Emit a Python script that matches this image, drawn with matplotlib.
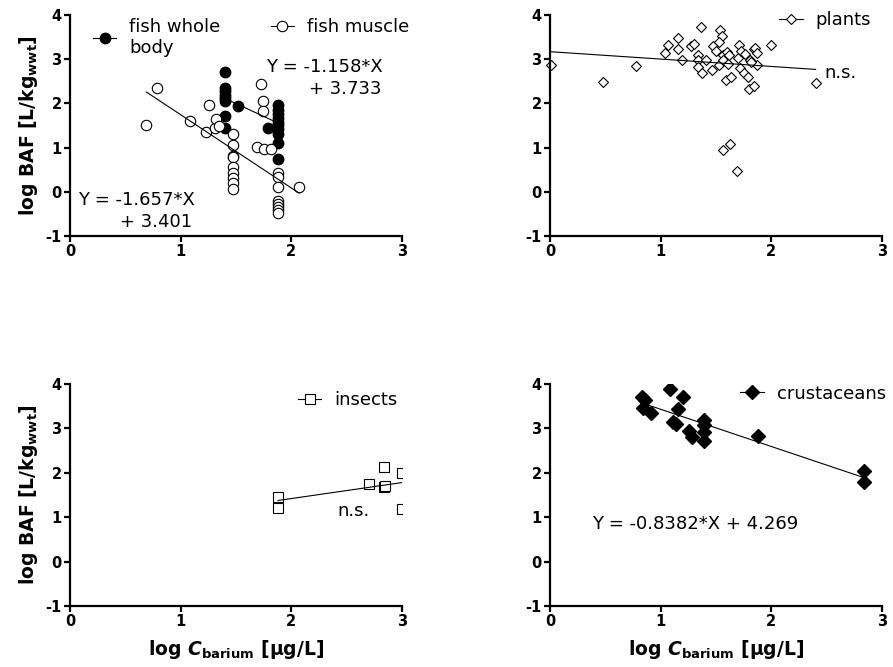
import matplotlib
matplotlib.use("Agg")
import numpy as np
import matplotlib.pyplot as plt
from matplotlib.lines import Line2D

# values
fish_body_x = [1.40, 1.40, 1.40, 1.40, 1.40, 1.40, 1.40, 1.40, 1.52, 1.79,
               1.88, 1.88, 1.88, 1.88, 1.88, 1.88, 1.88, 1.88, 1.88, 1.88]
fish_body_y = [2.72, 2.35, 2.28, 2.20, 2.12, 2.05, 1.72, 1.45, 1.94, 1.45,
               1.96, 1.86, 1.77, 1.68, 1.59, 1.50, 1.42, 1.30, 1.10, 0.74]
fish_muscle_x = [0.69, 0.79, 1.08, 1.23, 1.26, 1.31, 1.32, 1.35,
                 1.47, 1.47, 1.47, 1.47, 1.47, 1.47, 1.47, 1.47, 1.47,
                 1.73, 1.74, 1.74, 1.69, 1.75, 1.82,
                 1.88, 1.88, 1.88, 1.88, 1.88, 1.88, 1.88, 1.88, 2.07]
fish_muscle_y = [1.50, 2.34, 1.60, 1.35, 1.96, 1.45, 1.64, 1.48,
                 1.30, 1.05, 0.80, 0.78, 0.56, 0.42, 0.31, 0.20, 0.07,
                 2.44, 2.06, 1.83, 1.01, 0.96, 0.96,
                 0.42, 0.33, 0.10, -0.20, -0.27, -0.35, -0.42, -0.48, 0.11]
fish_body_fit = (-1.158, 3.733)
fish_muscle_fit = (-1.657, 3.401)

plants_x = [0.01, 0.48, 0.78, 1.04, 1.07, 1.16, 1.16, 1.19, 1.27, 1.30, 1.36, 1.34,
            1.34, 1.34, 1.37, 1.41, 1.46, 1.47, 1.50, 1.54, 1.55, 1.53, 1.53, 1.56,
            1.56, 1.59, 1.60, 1.61, 1.62, 1.64, 1.56, 1.63, 1.69, 1.71, 1.70, 1.72,
            1.73, 1.75, 1.76, 1.79, 1.80, 1.84, 1.81, 1.84, 1.85, 1.87, 1.87, 1.82,
            2.00, 2.40]
plants_y = [2.87, 2.49, 2.84, 3.14, 3.33, 3.47, 3.22, 2.98, 3.30, 3.35, 3.73, 3.10,
            2.98, 2.83, 2.68, 2.98, 2.76, 3.30, 3.19, 3.66, 3.53, 3.38, 2.87, 3.09,
            2.98, 2.54, 3.17, 2.90, 3.09, 2.59, 0.95, 1.08, 0.48, 3.33, 3.02, 2.79,
            3.19, 2.68, 3.12, 2.60, 2.33, 2.40, 2.98, 3.22, 3.25, 3.13, 2.86, 2.94,
            3.32, 2.47]
plants_fit = (-0.167, 3.17)

insects_x = [1.88, 1.88, 2.70, 2.84, 2.84, 2.85, 3.0, 3.0]
insects_y = [1.46, 1.21, 1.74, 2.12, 1.67, 1.70, 2.00, 1.19]
insects_fit = (0.36, 0.70)

crust_x = [0.83, 0.86, 0.84, 0.91, 1.08, 1.20, 1.16, 1.11, 1.14, 1.26, 1.28,
           1.39, 1.39, 1.39, 1.39, 1.88, 2.84, 2.84]
crust_y = [3.71, 3.64, 3.45, 3.35, 3.89, 3.70, 3.43, 3.15, 3.09, 2.94, 2.81,
           3.19, 3.08, 2.93, 2.72, 2.84, 2.03, 1.79]
crust_fit = (-0.8382, 4.269)

plt.rcParams['font.family'] = ['DejaVu Sans']
plt.rcParams['mathtext.fontset'] = 'dejavusans'
plt.rcParams['axes.unicode_minus'] = False

fig = plt.figure(figsize=(8.93, 6.67), dpi=100)
W, H = 893, 667
FS = 13


def make_axes(l, r, t, b):
    ax = fig.add_axes([l / W, 1 - b / H, (r - l) / W, (b - t) / H])
    ax.set_xlim(0, 3)
    ax.set_ylim(-1, 4)
    ax.set_xticks([0, 1, 2, 3])
    ax.set_yticks([-1, 0, 1, 2, 3, 4])
    for s in ['top', 'right']:
        ax.spines[s].set_visible(False)
    for s in ['left', 'bottom']:
        ax.spines[s].set_linewidth(1.6)
    ax.tick_params(direction='out', length=4, width=1.6, labelsize=10.5, pad=2)
    for lab in ax.get_xticklabels() + ax.get_yticklabels():
        lab.set_fontweight('bold')
    return ax


def fit_line(ax, xs, fit):
    xx = np.array([min(xs), max(xs)])
    ax.plot(xx, fit[0] * xx + fit[1], color='black', lw=0.8)


def small_legend(ax, handles, labels, **kw):
    return ax.legend(handles, labels, frameon=False, fontsize=FS,
                     handlelength=1.3, handletextpad=0.7, **kw)


ylab = r'log BAF [L/kg$_{\mathbf{wwt}}$]'
xlab = r'log $\mathbfit{C}_{\mathbf{barium}}$ [μg/L]'
txt = dict(fontsize=FS, va='center')

# fish
ax1 = make_axes(70, 402, 15, 236)
ax1.plot(fish_body_x, fish_body_y, 'o', mfc='black', mec='black', ms=7.5)
ax1.plot(fish_muscle_x, fish_muscle_y, 'o', mfc='white', mec='black', ms=7.5, mew=0.8)
fit_line(ax1, fish_body_x, fish_body_fit)
fit_line(ax1, fish_muscle_x, fish_muscle_fit)
ax1.text(1.77, 2.82, 'Y = -1.158*X', **txt)
ax1.text(2.16, 2.33, '+ 3.733', **txt)
ax1.text(0.07, -0.18, 'Y = -1.657*X', **txt)
ax1.text(0.45, -0.68, '+ 3.401', **txt)
h1 = Line2D([], [], color='black', lw=0.8, marker='o', mfc='black', ms=7.5)
h2 = Line2D([], [], color='black', lw=0.8, marker='o', mfc='white', ms=7.5, mew=0.8)
leg1 = small_legend(ax1, [h1], ['fish whole\nbody'], loc='upper left',
                    bbox_to_anchor=(0.02, 1.06))
ax1.add_artist(leg1)
small_legend(ax1, [h2], ['fish muscle'], loc='upper left',
             bbox_to_anchor=(0.555, 1.06))
ax1.set_ylabel(ylab, fontsize=13.5, fontweight='bold', labelpad=4)

# plants
ax2 = make_axes(550, 882, 15, 236)
ax2.plot(plants_x, plants_y, 'D', mfc='white', mec='black', ms=5.5, mew=0.8, clip_on=False)
xx = np.array([0, max(plants_x)])
ax2.plot(xx, plants_fit[0] * xx + plants_fit[1], color='black', lw=0.8)
ax2.text(2.48, 2.68, 'n.s.', **txt)
h3 = Line2D([], [], color='black', lw=0.8, marker='D', mfc='white', ms=5.5, mew=0.8)
small_legend(ax2, [h3], ['plants'], loc='upper right', bbox_to_anchor=(1.015, 1.09))

# insects
ax3 = make_axes(70, 402, 384, 606)
ax3.plot(insects_x, insects_y, 's', mfc='white', mec='black', ms=7, mew=0.8)
xx = np.array([min(insects_x), 3.1])
ax3.plot(xx, insects_fit[0] * xx + insects_fit[1], color='black', lw=0.8)
ax3.text(2.42, 1.13, 'n.s.', **txt)
h4 = Line2D([], [], color='black', lw=0.8, marker='s', mfc='white', ms=7, mew=0.8)
small_legend(ax3, [h4], ['insects'], loc='upper right', bbox_to_anchor=(1.035, 1.04))
ax3.set_ylabel(ylab, fontsize=13.5, fontweight='bold', labelpad=4)
ax3.set_xlabel(xlab, fontsize=13.5, fontweight='bold', labelpad=6)

# crustaceans
ax4 = make_axes(550, 882, 384, 606)
ax4.plot(crust_x, crust_y, 'D', mfc='black', mec='black', ms=7)
fit_line(ax4, crust_x, crust_fit)
ax4.text(0.38, 0.85, 'Y = -0.8382*X + 4.269', **txt)
h5 = Line2D([], [], color='black', lw=0.8, marker='D', mfc='black', ms=7)
small_legend(ax4, [h5], ['crustaceans'], loc='upper right', bbox_to_anchor=(1.06, 1.07))
ax4.set_xlabel(xlab, fontsize=13.5, fontweight='bold', labelpad=6)

fig.savefig('out.png', dpi=100)
